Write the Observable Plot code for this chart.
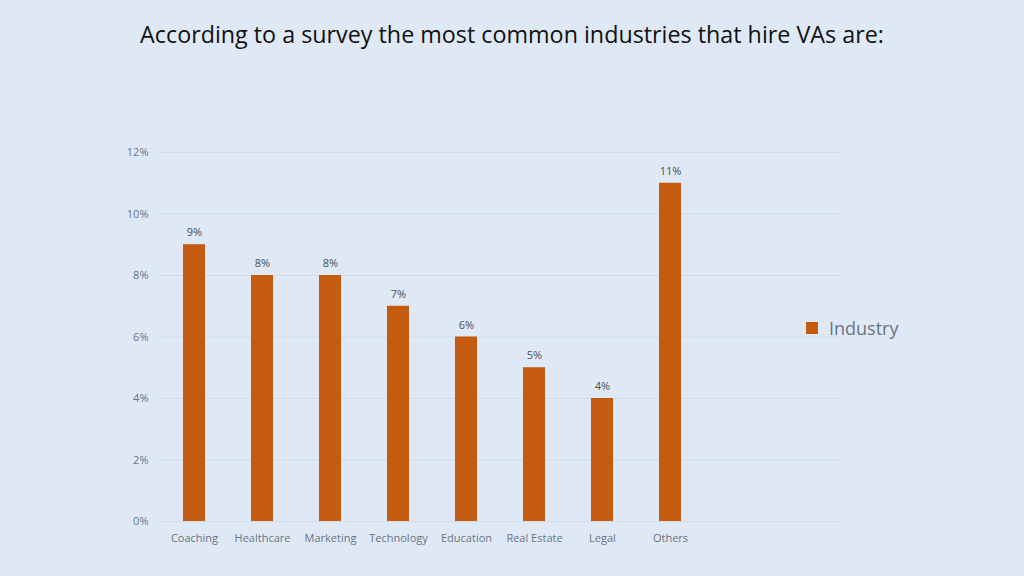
<!DOCTYPE html>
<html>
<head>
<meta charset="utf-8">
<script src="https://cdn.jsdelivr.net/npm/d3@7"></script>
<script src="https://cdn.jsdelivr.net/npm/@observablehq/plot@0.6"></script>
<style>
  html, body { margin: 0; padding: 0; background: #dfe9f5; }
  #wrap { position: relative; width: 1024px; height: 576px; overflow: hidden; background: #dfe9f5; font-family: "Open Sans", sans-serif; }
  #title { position: absolute; left: 0; width: 1024px; top: 18px; text-align: center; font-size: 23.3px; color: #111; }
  #legend { position: absolute; left: 806px; top: 316px; font-size: 18px; color: #6a7483; display: flex; align-items: center; }
  #legend span.sw { display: inline-block; width: 12px; height: 12px; background: #c55a11; margin-right: 11px; }
  #chart { position: absolute; left: 0; top: 0; }
</style>
</head>
<body>
<div id="wrap">
  <div id="chart"></div>
  <div id="title">According to a survey the most common industries that hire VAs are:</div>
  <div id="legend"><span class="sw"></span><span>Industry</span></div>
</div>
<script>
const categories = ["Coaching", "Healthcare", "Marketing", "Technology", "Education", "Real Estate", "Legal", "Others"];
const values = [9, 8, 8, 7, 6, 5, 4, 11];
const emptySlots = [" ", "  "];
const yTicks = [0, 2, 4, 6, 8, 10, 12];
const seriesName = "Industry";

const data = categories.map((c, i) => ({ category: c, value: values[i], series: seriesName }));

const chart = Plot.plot({
  width: 1024,
  height: 576,
  marginLeft: 158,
  marginRight: 182,
  marginTop: 152,
  marginBottom: 55,
  style: { background: "transparent", fontFamily: "Open Sans, sans-serif", fontSize: "11px", color: "#6a7483" },
  x: { domain: [...categories, ...emptySlots], paddingInner: 0.68, paddingOuter: 0.34, label: null },
  y: { domain: [0, 12], ticks: yTicks, tickFormat: d => d + "%", label: null },
  marks: [
    Plot.gridY(yTicks.filter(t => t > 0), { stroke: "#cfdbe9", strokeOpacity: 1, strokeWidth: 1 }),
    Plot.ruleY([0], { stroke: "#cfdbe9", strokeWidth: 1 }),
    Plot.barY(data, { x: "category", y: "value", fill: "#c55a11" }),
    Plot.text(data, { x: "category", y: "value", text: d => d.value + "%", dy: -12, fill: "#4a4f57", fontSize: 11 }),
    Plot.axisX({ tickSize: 0, tickPadding: 13, fill: "#6a7483", fontSize: 11, tickFormat: d => d.trim() }),
    Plot.axisY({ ticks: yTicks, tickFormat: d => d + "%", tickSize: 0, tickPadding: 10, fill: "#6a7483", fontSize: 11 })
  ]
});
document.getElementById("chart").appendChild(chart);
</script>
</body>
</html>
